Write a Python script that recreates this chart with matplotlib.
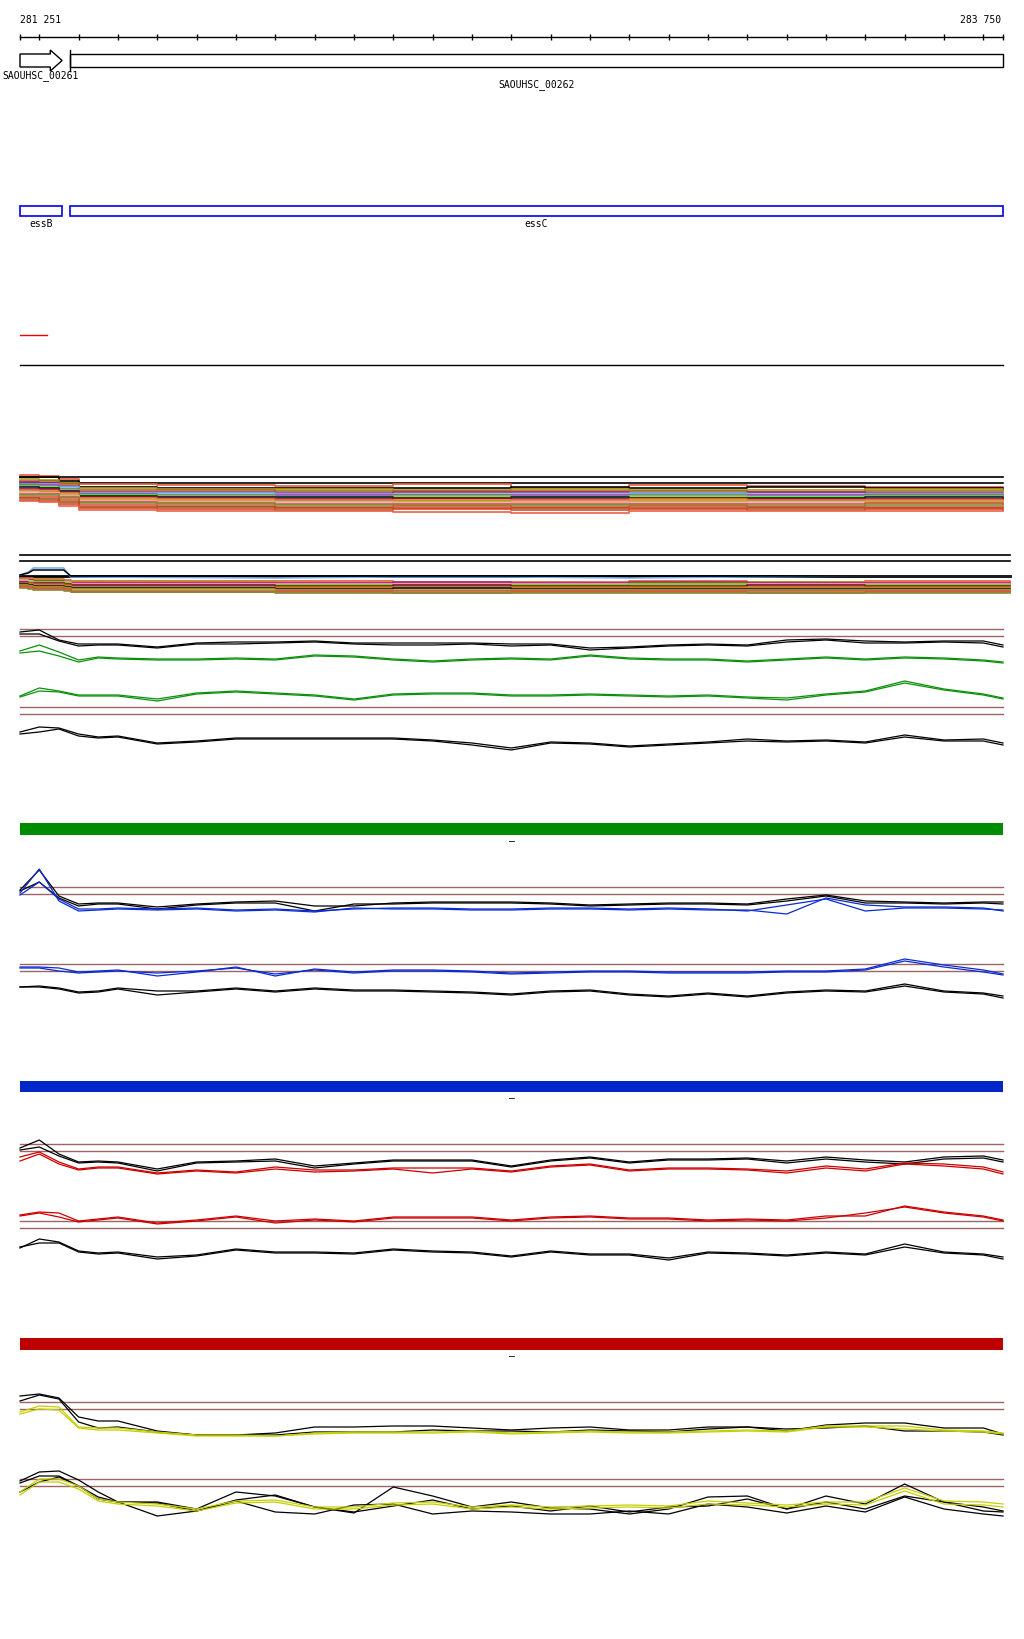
import matplotlib
matplotlib.use("Agg")
import matplotlib.pyplot as plt
from matplotlib.patches import Polygon, Rectangle

# region shown
view_start = 281251
view_end = 283750

ruler_ticks = list(range(281300, 283701, 100))

gene_names = ["SAOUHSC_00261", "SAOUHSC_00262"]
gene_starts = [281251, 281378]
gene_ends = [281358, 283750]

feat_names = ["essB", "essC"]
feat_starts = [281251, 281378]
feat_ends = [281358, 283750]

marker_span = [281251, 281320]

# coverage bundles (step lines)
cov_grid = [281251, 281300, 281350, 281400, 281600, 281900, 282200, 282500, 282800, 283100, 283400, 283750]
cov2_grid = [281251, 281272, 281285, 281362, 281380, 281900, 282200, 282500, 282800, 283100, 283400, 283768]

cov1_colors = ["#e8583c", "#000000", "#a89a10", "#a06a20", "#b02878", "#70b0f0", "#9050b0",
               "#48f000", "#101838", "#980840", "#e07820", "#b0a020", "#f0a0c8", "#c06030",
               "#888838", "#e05038", "#985818", "#d84828", "#e86048"]
cov1_values = [
    [44, 43, 40, 35, 34, 33, 35, 31, 34, 33, 32, 31],
    [42, 42, 38, 32, 31, 31, 31, 32, 31, 32, 31, 30],
    [40, 39, 36, 31, 30, 30, 29, 30, 29, 29, 30, 29],
    [38, 38, 35, 29, 29, 28, 28, 28, 28, 27, 28, 28],
    [37, 36, 33, 27, 27, 26, 27, 27, 26, 27, 26, 26],
    [35, 35, 32, 26, 26, 25, 25, 25, 26, 25, 25, 24],
    [34, 34, 30, 25, 24, 24, 24, 24, 24, 24, 24, 24],
    [33, 32, 29, 24, 23, 22, 23, 22, 23, 22, 23, 22],
    [32, 31, 28, 23, 22, 22, 21, 22, 21, 21, 22, 21],
    [30, 30, 27, 22, 21, 20, 21, 20, 21, 20, 20, 21],
    [29, 28, 26, 21, 20, 19, 19, 19, 20, 19, 19, 19],
    [28, 27, 24, 19, 18, 18, 18, 17, 18, 18, 17, 18],
    [27, 26, 23, 18, 17, 17, 16, 17, 16, 17, 16, 16],
    [25, 25, 22, 17, 16, 15, 15, 15, 15, 15, 16, 15],
    [24, 24, 21, 16, 15, 14, 14, 14, 14, 13, 14, 14],
    [22, 22, 19, 14, 13, 12, 13, 12, 13, 12, 12, 12],
    [21, 20, 17, 12, 12, 11, 11, 11, 11, 11, 11, 11],
    [19, 18, 15, 11, 10, 9, 10, 9, 10, 9, 10, 9],
    [18, 17, 13, 9, 8, 8, 7, 6, 8, 8, 8, 8],
]
cov1_max = [42, 36]

cov2_colors = ["#70b0f0", "#000000", "#e8583c", "#a89a10", "#b02878", "#f0a0c8", "#48f000",
               "#980840", "#a06a20", "#e07820", "#101838", "#b0a020", "#c06030", "#e05038", "#888838"]
cov2_values = [
    [24, 27, 31, 31, 22, 21, 22, 22, 21, 22, 23, 23],
    [24, 26, 29, 29, 23, 23, 23, 23, 23, 23, 23, 23],
    [21, 21, 20, 19, 18, 18, 17, 17, 18, 17, 18, 17],
    [20, 20, 19, 18, 17, 16, 16, 16, 16, 17, 16, 16],
    [19, 19, 18, 17, 16, 16, 17, 16, 17, 16, 16, 15],
    [19, 18, 17, 17, 15, 15, 15, 15, 14, 15, 15, 15],
    [17, 17, 17, 16, 14, 14, 14, 14, 15, 14, 14, 14],
    [17, 16, 16, 15, 14, 13, 14, 13, 13, 14, 13, 13],
    [16, 16, 15, 14, 12, 12, 12, 12, 12, 12, 12, 12],
    [15, 15, 14, 13, 11, 11, 11, 11, 11, 11, 11, 11],
    [15, 14, 13, 12, 11, 10, 11, 10, 10, 10, 10, 10],
    [14, 13, 12, 11, 10, 9, 9, 9, 9, 9, 9, 9],
    [13, 12, 11, 10, 8, 8, 8, 8, 8, 8, 8, 8],
    [12, 11, 10, 9, 7, 7, 6, 7, 7, 6, 7, 7],
    [11, 10, 9, 8, 7, 6, 6, 6, 6, 6, 6, 6],
]
cov2_max = [44, 38]

# profile panels
grid = [281251, 281300, 281350, 281400, 281450, 281500, 281600, 281700, 281800, 281900,
        282000, 282100, 282200, 282300, 282400, 282500, 282600, 282700, 282800, 282900,
        283000, 283100, 283200, 283300, 283400, 283500, 283600, 283700, 283750]

g_thresholds = [140, 133, 62, 55]
g_black_a = [137, 139, 129, 125, 125, 125, 122, 126, 127, 127, 128, 126, 126, 126, 126, 125, 125, 121, 122, 124, 125, 124, 129, 130, 128, 127, 128, 128, 124]
g_black_b = [135, 135, 128, 123, 124, 124, 121, 125, 125, 126, 127, 125, 124, 124, 125, 123, 124, 119, 121, 123, 124, 123, 127, 129, 126, 126, 127, 126, 122]
g_green_a = [118, 124, 117, 109, 112, 111, 110, 110, 111, 110, 114, 113, 110, 108, 110, 111, 110, 114, 111, 110, 110, 108, 110, 112, 110, 112, 111, 109, 107]
g_green_b = [116, 118, 113, 107, 111, 110, 109, 109, 110, 109, 113, 112, 109, 107, 109, 110, 109, 113, 110, 109, 109, 107, 109, 111, 109, 111, 110, 108, 106]
g_green_low_a = [73, 81, 78, 74, 74, 74, 70, 76, 78, 76, 74, 70, 75, 76, 76, 74, 74, 75, 74, 73, 74, 72, 71, 75, 78, 88, 80, 75, 71]
g_green_low_b = [72, 78, 77, 73, 73, 73, 68, 75, 77, 75, 73, 69, 74, 75, 75, 73, 73, 74, 73, 72, 73, 71, 69, 74, 77, 86, 79, 74, 70]
g_black_low_a = [37, 42, 41, 35, 32, 33, 26, 28, 31, 31, 31, 31, 31, 29, 26, 21, 27, 26, 23, 25, 27, 30, 28, 29, 27, 34, 29, 30, 26]
g_black_low_b = [35, 37, 40, 33, 31, 32, 25, 27, 30, 30, 30, 30, 30, 28, 24, 19, 26, 25, 22, 24, 26, 28, 27, 28, 26, 32, 28, 28, 24]

b_thresholds = [122, 115, 45, 38]
b_black_a = [119, 139, 113, 105, 106, 106, 102, 105, 107, 108, 103, 103, 106, 107, 107, 107, 106, 104, 105, 106, 106, 105, 110, 114, 108, 107, 106, 107, 107]
b_black_b = [118, 127, 111, 103, 105, 105, 100, 104, 106, 106, 98, 105, 105, 106, 106, 106, 105, 103, 104, 105, 105, 104, 108, 113, 106, 106, 105, 106, 105]
b_blue_a = [116, 140, 108, 98, 99, 100, 99, 100, 98, 99, 97, 101, 100, 100, 99, 99, 100, 100, 99, 100, 99, 99, 95, 111, 104, 102, 102, 101, 98]
b_blue_b = [114, 127, 110, 100, 100, 101, 100, 101, 99, 100, 98, 100, 101, 101, 100, 100, 101, 101, 100, 101, 100, 98, 104, 110, 98, 101, 101, 100, 99]
b_blue_low_a = [42, 42, 41, 37, 38, 39, 33, 37, 42, 33, 40, 37, 39, 39, 38, 36, 37, 38, 38, 37, 37, 37, 38, 38, 40, 50, 44, 39, 35]
b_blue_low_b = [41, 41, 38, 36, 37, 38, 36, 38, 41, 35, 39, 36, 38, 38, 37, 35, 36, 37, 37, 36, 36, 36, 37, 37, 39, 48, 42, 37, 34]
b_black_low_a = [22, 23, 21, 17, 18, 21, 18, 18, 21, 18, 21, 19, 19, 18, 17, 15, 18, 19, 15, 13, 16, 13, 17, 19, 18, 25, 18, 16, 13]
b_black_low_b = [22, 22, 20, 16, 17, 20, 14, 17, 20, 17, 20, 18, 18, 17, 16, 14, 17, 18, 14, 12, 15, 12, 16, 18, 17, 23, 17, 15, 11]

r_thresholds = [125, 118, 48, 41]
r_black_a = [121, 129, 115, 107, 108, 107, 100, 107, 108, 110, 103, 106, 109, 109, 109, 103, 109, 112, 107, 110, 110, 111, 108, 112, 109, 107, 112, 113, 109]
r_black_b = [119, 122, 113, 106, 107, 106, 98, 106, 107, 108, 101, 105, 108, 108, 108, 102, 108, 111, 106, 109, 109, 110, 106, 110, 107, 105, 110, 111, 107]
r_red_a = [112, 117, 107, 100, 102, 102, 96, 99, 97, 102, 99, 99, 101, 101, 101, 98, 103, 105, 99, 101, 101, 100, 98, 103, 100, 106, 105, 102, 97]
r_red_b = [108, 115, 105, 99, 101, 101, 95, 98, 96, 100, 97, 98, 100, 96, 100, 97, 102, 104, 98, 100, 100, 99, 96, 101, 98, 105, 103, 100, 95]
r_red_low_a = [54, 57, 56, 48, 50, 52, 46, 49, 53, 48, 50, 48, 52, 52, 52, 49, 52, 53, 51, 51, 49, 50, 49, 53, 53, 63, 57, 53, 49]
r_red_low_b = [53, 56, 52, 47, 49, 51, 45, 48, 52, 46, 49, 47, 51, 51, 51, 48, 51, 52, 50, 50, 48, 49, 48, 51, 56, 62, 56, 52, 48]
r_black_low_a = [21, 30, 27, 18, 16, 17, 12, 14, 20, 17, 17, 16, 20, 18, 17, 13, 18, 15, 15, 11, 17, 16, 14, 17, 15, 25, 17, 15, 12]
r_black_low_b = [22, 26, 26, 17, 15, 16, 10, 13, 19, 16, 16, 15, 19, 17, 16, 12, 17, 14, 14, 9, 16, 15, 13, 16, 14, 22, 16, 14, 10]

y_thresholds = [127, 120, 50, 43]
y_black_a = [133, 135, 131, 112, 108, 108, 98, 94, 94, 96, 102, 102, 103, 103, 101, 99, 101, 102, 99, 99, 102, 102, 98, 104, 106, 106, 101, 101, 95]
y_black_b = [128, 134, 130, 107, 101, 102, 97, 94, 94, 94, 97, 97, 97, 99, 98, 98, 97, 99, 98, 97, 100, 102, 100, 101, 103, 98, 98, 97, 94]
y_yellow_a = [117, 123, 122, 102, 101, 101, 97, 94, 94, 93, 96, 97, 97, 97, 98, 96, 97, 98, 97, 97, 98, 99, 98, 103, 103, 103, 99, 98, 96]
y_yellow_b = [115, 120, 119, 101, 99, 99, 96, 93, 93, 93, 95, 96, 96, 96, 97, 95, 96, 97, 96, 96, 97, 98, 97, 102, 102, 100, 98, 97, 95]
y_black_low_a = [48, 57, 58, 49, 37, 27, 27, 20, 37, 33, 22, 16, 42, 33, 22, 27, 21, 20, 15, 20, 32, 33, 20, 33, 25, 45, 27, 22, 18]
y_black_low_b = [46, 53, 53, 43, 32, 27, 26, 18, 29, 34, 22, 17, 23, 29, 20, 23, 18, 23, 17, 22, 23, 30, 20, 27, 20, 33, 27, 18, 17]
y_black_low_c = [37, 47, 52, 43, 30, 27, 13, 18, 28, 17, 15, 24, 25, 15, 18, 17, 15, 15, 18, 15, 25, 22, 16, 23, 17, 32, 20, 15, 13]
y_yellow_low_a = [37, 50, 50, 43, 30, 27, 25, 20, 28, 29, 22, 22, 26, 27, 22, 24, 22, 23, 24, 23, 28, 26, 24, 27, 27, 41, 28, 27, 25]
y_yellow_low_b = [34, 47, 47, 40, 28, 25, 23, 18, 26, 27, 20, 20, 24, 25, 20, 22, 20, 21, 22, 21, 25, 24, 22, 25, 24, 38, 25, 24, 22]

BROWN = "#9c6464"
MONO = "DejaVu Sans Mono"

W, H = 1024, 1640
fig = plt.figure(figsize=(W / 100, H / 100), dpi=100)
fig.patch.set_facecolor("white")

bpp = (view_end - view_start) / 983.0
x_left = view_start - 20 * bpp
x_right = view_start + 1004 * bpp


def track(top, bottom):
    ax = fig.add_axes([0, 1 - bottom / H, 1, (bottom - top) / H])
    ax.set_xlim(x_left, x_right)
    ax.set_ylim(0, bottom - top)
    ax.axis("off")
    return ax


# --- annotation area (ruler, genes, features) ---
ax = fig.add_axes([0, 1 - 380 / H, 1, 380 / H])
ax.set_xlim(x_left, x_right)
ax.set_ylim(380, 0)
ax.axis("off")

ax.plot([view_start, view_end], [38, 38], color="black", lw=1)
ax.vlines(ruler_ticks + [view_start, view_end], 35, 41, color="black", lw=1)
ax.text(view_start, 20, f"{view_start:,}".replace(",", " "), fontsize=7, family=MONO, va="center", ha="left")
ax.text(view_end - 2 * bpp, 20, f"{view_end:,}".replace(",", " "), fontsize=7, family=MONO, va="center", ha="right")

# first gene: arrow, second gene: long box
head = 30
s, e = gene_starts[0], gene_ends[0]
arrow = Polygon([(s, 55), (e - head, 55), (e - head, 51), (e, 61.5), (e - head, 72),
                 (e - head, 68), (s, 68)], closed=True, facecolor="white", edgecolor="black", lw=1)
ax.add_patch(arrow)
s, e = gene_starts[1], gene_ends[1]
ax.add_patch(Rectangle((s, 55), e - s, 13, facecolor="white", edgecolor="black", lw=1))
ax.plot([s, s], [51, 72], color="black", lw=1)
label_rows = [76, 85]
for name, s, e, row in zip(gene_names, gene_starts, gene_ends, label_rows):
    ax.text((s + e) / 2, row, name, fontsize=7, family=MONO, ha="center", va="center")

for name, s, e in zip(feat_names, feat_starts, feat_ends):
    ax.add_patch(Rectangle((s, 207), e - s, 10, facecolor="white", edgecolor="#0000ee", lw=1.2))
    ax.text((s + e) / 2, 224, name, fontsize=7, family=MONO, ha="center", va="center")

ax.plot(marker_span, [336, 336], color="#ee0000", lw=1)
ax.plot([view_start, view_end], [366, 366], color="black", lw=1)

# --- coverage bundles ---
ax = track(470, 520)
for v in cov1_max:
    ax.plot([view_start, view_end], [v, v], color="black", lw=1.2)
for c, vals in zip(cov1_colors, cov1_values):
    ax.plot(cov_grid, vals, color=c, lw=1.2, drawstyle="steps-post")

ax = track(550, 600)
for v in cov2_max:
    ax.plot([view_start, cov2_grid[-1]], [v, v], color="black", lw=1.2)
ax.plot([view_start, cov2_grid[-1]], [23, 23], color="black", lw=2)
for c, vals in zip(cov2_colors[:2], cov2_values[:2]):
    ax.plot(cov2_grid, vals, color=c, lw=1.1)
for c, vals in zip(cov2_colors[2:], cov2_values[2:]):
    ax.plot(cov2_grid, vals, color=c, lw=1.2, drawstyle="steps-post")


def profile_panel(top, bottom, thresholds, pairs):
    ax = track(top, bottom)
    for t in thresholds:
        ax.plot([view_start, view_end], [t, t], color=BROWN, lw=1)
    for vals, c in pairs:
        ax.plot(grid, vals, color=c, lw=0.9)
    return ax


def header_bar(top, bottom, color):
    ax = track(top, bottom)
    ax.axvspan(view_start, view_end, color=color, lw=0)
    ax.text((view_start + view_end) / 2, -5, "–", fontsize=7, family=MONO, ha="center", va="center")


GREEN = "#0c900c"
BLUE = "#0a2ad2"
RED = "#cc0000"
YELLOW = "#c4d000"

profile_panel(600, 770, g_thresholds,
              [(g_black_a, "black"), (g_black_b, "black"), (g_green_a, GREEN), (g_green_b, GREEN),
               (g_green_low_a, GREEN), (g_green_low_b, GREEN), (g_black_low_a, "black"), (g_black_low_b, "black")])

header_bar(824, 836, "#008c00")
profile_panel(850, 1010, b_thresholds,
              [(b_black_a, "black"), (b_black_b, "black"), (b_blue_a, BLUE), (b_blue_b, BLUE),
               (b_blue_low_a, BLUE), (b_blue_low_b, BLUE), (b_black_low_a, "black"), (b_black_low_b, "black")])

header_bar(1082, 1093, "#0028c8")
profile_panel(1100, 1270, r_thresholds,
              [(r_black_a, "black"), (r_black_b, "black"), (r_red_a, RED), (r_red_b, RED),
               (r_red_low_a, RED), (r_red_low_b, RED), (r_black_low_a, "black"), (r_black_low_b, "black")])

header_bar(1339, 1351, "#bc0000")
profile_panel(1360, 1530, y_thresholds,
              [(y_black_a, "black"), (y_black_b, "black"), (y_yellow_a, YELLOW), (y_yellow_b, YELLOW),
               (y_black_low_a, "black"), (y_black_low_b, "black"), (y_black_low_c, "black"),
               (y_yellow_low_a, YELLOW), (y_yellow_low_b, YELLOW)])

fig.savefig("out.png", dpi=100, facecolor="white")
